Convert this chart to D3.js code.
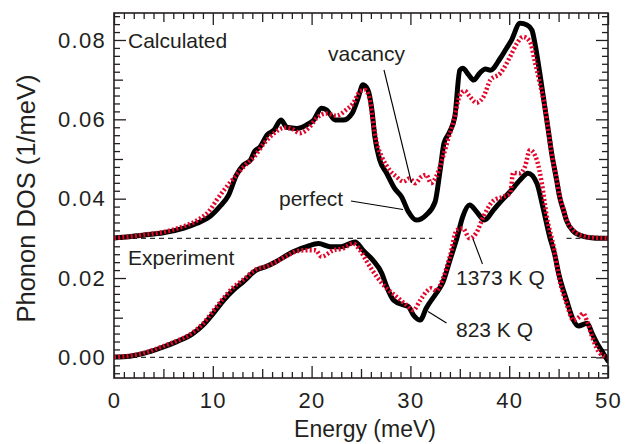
<!DOCTYPE html>
<html>
<head>
<meta charset="utf-8">
<script src="https://cdn.jsdelivr.net/npm/d3@7"></script>
<style>
  html, body { margin: 0; padding: 0; background: #fff; }
  svg { display: block; }
  text { font-family: "Liberation Sans", Arial, Helvetica, sans-serif; fill: #231f20; }
</style>
</head>
<body>
<svg id="chart" width="637" height="444"></svg>
<script>
// ---- Data: phonon density of states (1/meV) vs energy (meV) ----
// Calculated DOS (drawn shifted up by calcOffset)
const calcOffset = 0.03;
const calcPerfectE = [0, 1.5, 3, 5, 7, 8.4, 9.7, 10.7, 11.6, 12.4, 13.1, 13.8, 14.2, 14.8, 15.5, 16.2, 16.9, 17.5, 18.5, 19.5, 20.2, 21.0, 21.5, 22.4, 23.2, 24.1, 24.7, 25.2, 25.7, 26.1, 26.4, 26.9, 27.6, 28.4, 29.1, 29.8, 30.6, 31.6, 32.5, 33.0, 33.4, 33.9, 34.5, 35.0, 35.3, 35.9, 36.4, 37.0, 37.6, 38.1, 39.1, 39.7, 40.2, 41.1, 41.8, 42.3, 42.6, 43.1, 43.6, 44.0, 44.3, 44.8, 45.1, 45.5, 45.8, 46.5, 47.5, 48.5, 50];
const calcPerfect = [0.0001, 0.0004, 0.0008, 0.0014, 0.0025, 0.0038, 0.0055, 0.0080, 0.0109, 0.0160, 0.0185, 0.0197, 0.0218, 0.0231, 0.0261, 0.0273, 0.0298, 0.0280, 0.0277, 0.0286, 0.0298, 0.0328, 0.0324, 0.0298, 0.0298, 0.0315, 0.0353, 0.0387, 0.0374, 0.0324, 0.0256, 0.0197, 0.0164, 0.0126, 0.0105, 0.0067, 0.0046, 0.0059, 0.0092, 0.0170, 0.0240, 0.0265, 0.0307, 0.0424, 0.0429, 0.0412, 0.0399, 0.0416, 0.0427, 0.0424, 0.0454, 0.0478, 0.0498, 0.0542, 0.0538, 0.0525, 0.0492, 0.0416, 0.0332, 0.0265, 0.0214, 0.0147, 0.0105, 0.0070, 0.0045, 0.0018, 0.0005, 0.0001, 0.0000];
const calcVacancyE = [0, 1.5, 3, 5, 7, 8.4, 9.7, 10.4, 11.4, 12.4, 13.1, 14.2, 15.2, 16.2, 17.3, 18.1, 18.8, 19.8, 20.5, 21.5, 22.5, 23.5, 24.2, 24.9, 25.4, 25.9, 26.2, 26.6, 27.1, 27.9, 28.6, 29.3, 29.9, 30.5, 31.1, 31.6, 32.1, 32.6, 33.2, 33.7, 34.4, 35.0, 35.5, 36.0, 36.7, 37.4, 38.1, 39.1, 40.1, 40.8, 41.4, 42.1, 42.6, 43.1, 43.6, 44.0, 44.3, 44.8, 45.1, 45.5, 45.8, 46.5, 47.5, 48.5, 50];
const calcVacancy = [0.0001, 0.0004, 0.0009, 0.0016, 0.0030, 0.0045, 0.0071, 0.0097, 0.0130, 0.0160, 0.0180, 0.0206, 0.0240, 0.0265, 0.0279, 0.0275, 0.0265, 0.0281, 0.0303, 0.0315, 0.0309, 0.0324, 0.0340, 0.0370, 0.0374, 0.0349, 0.0298, 0.0240, 0.0206, 0.0172, 0.0155, 0.0143, 0.0151, 0.0139, 0.0155, 0.0160, 0.0139, 0.0155, 0.0197, 0.0240, 0.0298, 0.0360, 0.0372, 0.0358, 0.0342, 0.0357, 0.0399, 0.0416, 0.0458, 0.0492, 0.0508, 0.0496, 0.0445, 0.0391, 0.0332, 0.0265, 0.0214, 0.0150, 0.0108, 0.0073, 0.0048, 0.0020, 0.0006, 0.0002, 0.0000];

// Experimental DOS
const exp823E = [0, 1.6, 3.0, 4.65, 6.3, 8.0, 9.0, 10.05, 11.1, 12.1, 13.1, 14.4, 15.4, 16.4, 17.8, 18.5, 19.5, 20.7, 21.9, 23.0, 24.4, 25.2, 26.2, 27.1, 27.6, 28.3, 29.3, 29.8, 30.3, 31.0, 31.6, 32.6, 33.3, 34.0, 34.7, 35.3, 36.0, 36.7, 37.5, 38.4, 39.3, 40.1, 41.1, 41.9, 42.8, 43.4, 44.1, 44.6, 45.0, 45.8, 46.5, 47.0, 47.9, 48.4, 48.9, 49.4, 50];
const exp823 = [0.0001, 0.0003, 0.0010, 0.0023, 0.0039, 0.0060, 0.0081, 0.0111, 0.0144, 0.0170, 0.0191, 0.0220, 0.0229, 0.0241, 0.0262, 0.0270, 0.0279, 0.0287, 0.0279, 0.0279, 0.0291, 0.0270, 0.0245, 0.0212, 0.0178, 0.0144, 0.0132, 0.0128, 0.0107, 0.0094, 0.0124, 0.0161, 0.0190, 0.0245, 0.0300, 0.0355, 0.0384, 0.0367, 0.0346, 0.0371, 0.0397, 0.0418, 0.0447, 0.0464, 0.0439, 0.0380, 0.0304, 0.0260, 0.0212, 0.0145, 0.0094, 0.0079, 0.0086, 0.0060, 0.0035, 0.0015, -0.0009];
const exp1373E = [0, 1.6, 3.0, 4.65, 6.3, 8.0, 9.0, 10.05, 11.1, 12.1, 13.1, 14.4, 15.4, 16.4, 17.8, 18.5, 19.5, 20.4, 21.0, 22.2, 23.2, 24.2, 24.9, 25.6, 26.6, 27.6, 28.6, 29.6, 30.3, 31.0, 31.6, 32.1, 32.6, 33.3, 34.0, 34.7, 35.3, 36.0, 36.7, 37.4, 38.4, 39.4, 40.1, 40.4, 41.1, 41.6, 42.1, 42.8, 43.3, 43.8, 44.5, 45.1, 45.8, 46.5, 47.1, 47.5, 47.9, 48.5, 49.2, 50];
const exp1373 = [0.0001, 0.0004, 0.0011, 0.0025, 0.0041, 0.0063, 0.0085, 0.0117, 0.0150, 0.0177, 0.0196, 0.0222, 0.0229, 0.0241, 0.0260, 0.0268, 0.0270, 0.0270, 0.0254, 0.0270, 0.0275, 0.0287, 0.0270, 0.0241, 0.0203, 0.0174, 0.0153, 0.0132, 0.0119, 0.0144, 0.0165, 0.0174, 0.0168, 0.0199, 0.0254, 0.0321, 0.0325, 0.0300, 0.0315, 0.0355, 0.0395, 0.0405, 0.0414, 0.0465, 0.0464, 0.0481, 0.0523, 0.0497, 0.0439, 0.0355, 0.0279, 0.0195, 0.0136, 0.0094, 0.0102, 0.0111, 0.0090, 0.0044, 0.0010, 0.0000];

// Axis ticks
const xMajorTicks = [0, 10, 20, 30, 40, 50];
const xMidTicks = [5, 15, 25, 35, 45];
const yMajorTicks = [0.00, 0.02, 0.04, 0.06, 0.08];
const yMidTicks = [0.01, 0.03, 0.05, 0.07];
const xLabel = "Energy (meV)";
const yLabel = "Phonon DOS (1/meV)";

// ---- Layout ----
const svg = d3.select("#chart");
const plot = { left: 114, right: 608, top: 13, bottom: 378 };
const x = d3.scaleLinear().domain([0, 50]).range([plot.left, plot.right]);
const y = d3.scaleLinear().domain([-0.0052, 0.0868]).range([plot.bottom, plot.top]);

const red = "#e3062b";

// clip region for curves
svg.append("defs").append("clipPath").attr("id", "plotclip")
  .append("rect")
  .attr("x", plot.left).attr("y", plot.top)
  .attr("width", plot.right - plot.left).attr("height", plot.bottom - plot.top);

// ---- Ticks (inward on all four sides) ----
const xMinorTicks = d3.range(0, 51, 1).filter(v => v % 5 !== 0);
const yMinorTicks = d3.range(-4, 87, 2).map(v => v / 1000).filter(v => Math.round(v * 1000) % 10 !== 0);

function addAxis(axisFn, scale, values, size, transform, labels, pad) {
  const a = axisFn(scale).tickValues(values).tickSizeInner(-size).tickSizeOuter(0);
  if (labels) a.tickFormat(labels).tickPadding(pad); else a.tickFormat("");
  const g = svg.append("g").attr("transform", transform).call(a);
  g.select(".domain").remove();
  g.selectAll(".tick line").attr("stroke", "#231f20").attr("stroke-width", 1.3);
  return g;
}

const bottomT = `translate(0,${plot.bottom})`, topT = `translate(0,${plot.top})`;
const leftT = `translate(${plot.left},0)`, rightT = `translate(${plot.right},0)`;
[[xMinorTicks, 6], [xMidTicks, 9]].forEach(([v, s]) => {
  addAxis(d3.axisBottom, x, v, s, bottomT);
  addAxis(d3.axisTop, x, v, s, topT);
});
[[yMinorTicks, 6], [yMidTicks, 9]].forEach(([v, s]) => {
  addAxis(d3.axisLeft, y, v, s, leftT);
  addAxis(d3.axisRight, y, v, s, rightT);
});
const xLab = addAxis(d3.axisBottom, x, xMajorTicks, 12, bottomT, d3.format("d"), 14);
addAxis(d3.axisTop, x, xMajorTicks, 12, topT);
const yLab = addAxis(d3.axisLeft, y, yMajorTicks, 12, leftT, d3.format(".2f"), 8);
addAxis(d3.axisRight, y, yMajorTicks, 12, rightT);
[xLab, yLab].forEach(g => g.selectAll("text")
  .attr("fill", "#231f20").style("font-size", "22px")
  .style("font-family", "'Liberation Sans', Arial, sans-serif")
  .style("letter-spacing", "1.3px"));

// ---- Zero / offset reference lines ----
const dash = svg.append("g").attr("stroke", "#333").attr("stroke-width", 1.1)
  .attr("stroke-dasharray", "5,4").attr("fill", "none");
[[0, 50, 0], [0, 32.2, calcOffset], [45.8, 50, calcOffset]].forEach(([e0, e1, v]) => {
  dash.append("line").attr("x1", x(e0)).attr("x2", x(e1)).attr("y1", y(v)).attr("y2", y(v));
});

// ---- Curves ----
const line = d3.line().x(d => x(d[0])).y(d => y(d[1])).curve(d3.curveMonotoneX);
const zip = (es, vs, off) => es.map((e, i) => [e, vs[i] + off]);
const curves = svg.append("g").attr("clip-path", "url(#plotclip)").attr("fill", "none")
  .attr("stroke-linejoin", "round");

const solid = (d) => curves.append("path").attr("d", line(d))
  .attr("stroke", "#000").attr("stroke-width", 5).attr("stroke-linecap", "round");
const dotted = (d) => curves.append("path").attr("d", line(d))
  .attr("stroke", red).attr("stroke-width", 4.5).attr("stroke-dasharray", "2,2.2");

solid(zip(calcPerfectE, calcPerfect, calcOffset));
solid(zip(exp823E, exp823, 0));
dotted(zip(calcVacancyE, calcVacancy, calcOffset));
dotted(zip(exp1373E, exp1373, 0));

// ---- Frame ----
svg.append("rect").attr("x", plot.left).attr("y", plot.top)
  .attr("width", plot.right - plot.left).attr("height", plot.bottom - plot.top)
  .attr("fill", "none").attr("stroke", "#231f20").attr("stroke-width", 1.6);

// ---- Annotations ----
const note = (t, px, py) => svg.append("text").attr("x", px).attr("y", py)
  .style("font-size", "21px").text(t);
note("Calculated", 128, 48);
note("Experiment", 128, 265);
note("vacancy", 328, 61);
note("perfect", 279, 206);
note("1373 K Q", 456, 285);
note("823 K Q", 456, 337);

const leaders = svg.append("g").attr("stroke", "#000").attr("stroke-width", 1.1);
[[384, 70, 411.5, 183], [351, 201, 403, 209.5], [482.5, 264, 473, 239], [446.5, 323, 428, 311.5]]
  .forEach(([x1, y1, x2, y2]) => leaders.append("line")
    .attr("x1", x1).attr("y1", y1).attr("x2", x2).attr("y2", y2));

// ---- Axis titles ----
svg.append("text").attr("x", (plot.left + plot.right) / 2 + 4).attr("y", 437)
  .attr("text-anchor", "middle").style("font-size", "23px").text(xLabel);
svg.append("text").attr("transform", `translate(35,198.5) rotate(-90)`)
  .attr("text-anchor", "middle").style("font-size", "25.5px").text(yLabel);
</script>
</body>
</html>
